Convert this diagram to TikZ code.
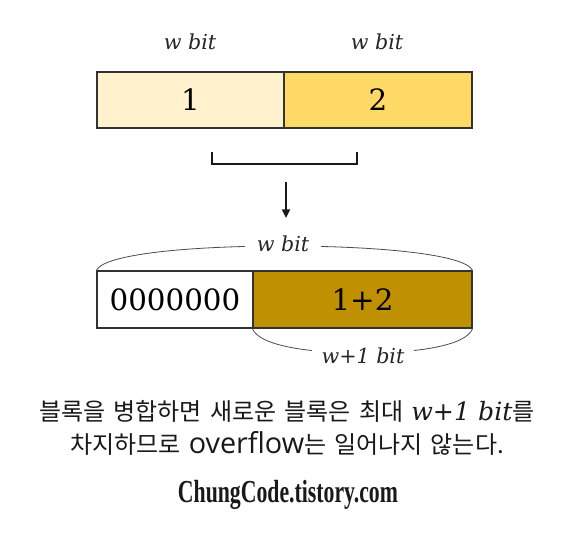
\documentclass[tikz,border=0pt]{standalone}
\usepackage{fontspec}
\usetikzlibrary{arrows.meta}
\newfontfamily\krfont{Noto Sans CJK KR}
\newfontfamily\latinfont[Scale=1.2]{Open Sans}
\newfontfamily\numfont{DejaVu Serif}
\newfontfamily\capitfont[Scale=1.05]{DejaVu Serif}
\newfontfamily\wmarkfont[FakeStretch=0.68]{Liberation Serif}
\newcommand{\wit}[1]{{\capitfont\itshape #1}}
\newcommand{\lat}[1]{{\latinfont #1}}
\newcommand{\capfont}{\krfont\fontsize{18}{24.75}\selectfont\spaceskip=0.34em plus 0.1em\relax}
\definecolor{lightyel}{HTML}{FFF2CC}
\definecolor{goldyel}{HTML}{FFD966}
\definecolor{darkgold}{HTML}{BF9000}
\definecolor{edge}{HTML}{333333}
\tikzset{
  cell/.style={draw=edge, line width=0.9pt, inner sep=0pt, minimum height=42pt,
    font=\numfont\fontsize{22}{24}\selectfont, text=black},
  bitlabel/.style={font=\numfont\itshape\fontsize{15.5}{18}\selectfont, text=black!85, inner sep=0pt},
  arclabel/.style={bitlabel, fill=white, inner xsep=9pt, inner ysep=2pt},
  arcline/.style={draw=black!70, line width=0.6pt},
  bracketline/.style={draw=black!90, line width=1.4pt},
}
\begin{document}
\begin{tikzpicture}[x=0.75pt,y=-0.75pt]
\useasboundingbox[fill=white] (0,0) rectangle (572,544);
% top bar
\node[cell, fill=lightyel, minimum width=140.25pt] (c1) at (190.5,100) {1};
\node[cell, fill=goldyel, minimum width=141pt] (c2) at (378,100) {2};
\node[bitlabel] (l1) at (190,42) {w bit};
\node[bitlabel] (l2) at (377,42) {w bit};
% bracket
\coordinate (b1) at (212,152);
\coordinate (b2) at (212,164);
\coordinate (b3) at (357,164);
\coordinate (b4) at (357,152);
\draw[bracketline] (b1) -- (b2) -- (b3) -- (b4);
% arrow
\coordinate (a1) at (286,182);
\coordinate (a2) at (286,218);
\draw[bracketline, -{Stealth[length=6.5pt,width=6pt,inset=0pt]}] (a1) -- (a2);
% bottom bar
\node[cell, fill=white, minimum width=117pt, minimum height=42.75pt] (c3) at (175,299.5) {0000000};
\node[cell, fill=darkgold, minimum width=164.25pt, minimum height=42.75pt] (c4) at (362.5,299.5) {1+2};
% arcs
\coordinate (top) at (283,246);
\draw[arcline] (c3.north west) .. controls (104,254) and (190,246) .. (top)
  .. controls (376,246) and (465,254) .. (c4.north east);
\node[arclabel] (l3) at (283,244) {w bit};
\coordinate (bot) at (363,353);
\draw[arcline] (c4.south west) .. controls (259,346) and (310,353) .. (bot)
  .. controls (416,353) and (466,346) .. (c4.south east);
\node[arclabel, inner xsep=7pt] (l4) at (363,356) {w+1 bit};
% caption
\node[font=\capfont, align=center, text=black!90, inner sep=0pt] (cap) at (287,428)
  {블록을 병합하면 새로운 블록은 최대 \wit{w+1 bit}를\\차지하므로 \lat{overflow}는 일어나지 않는다.};
\node[font=\wmarkfont\bfseries\fontsize{24}{28}\selectfont, text=black!90, inner sep=0pt] (wm) at (288,495) {ChungCode.tistory.com};
\end{tikzpicture}
\end{document}
